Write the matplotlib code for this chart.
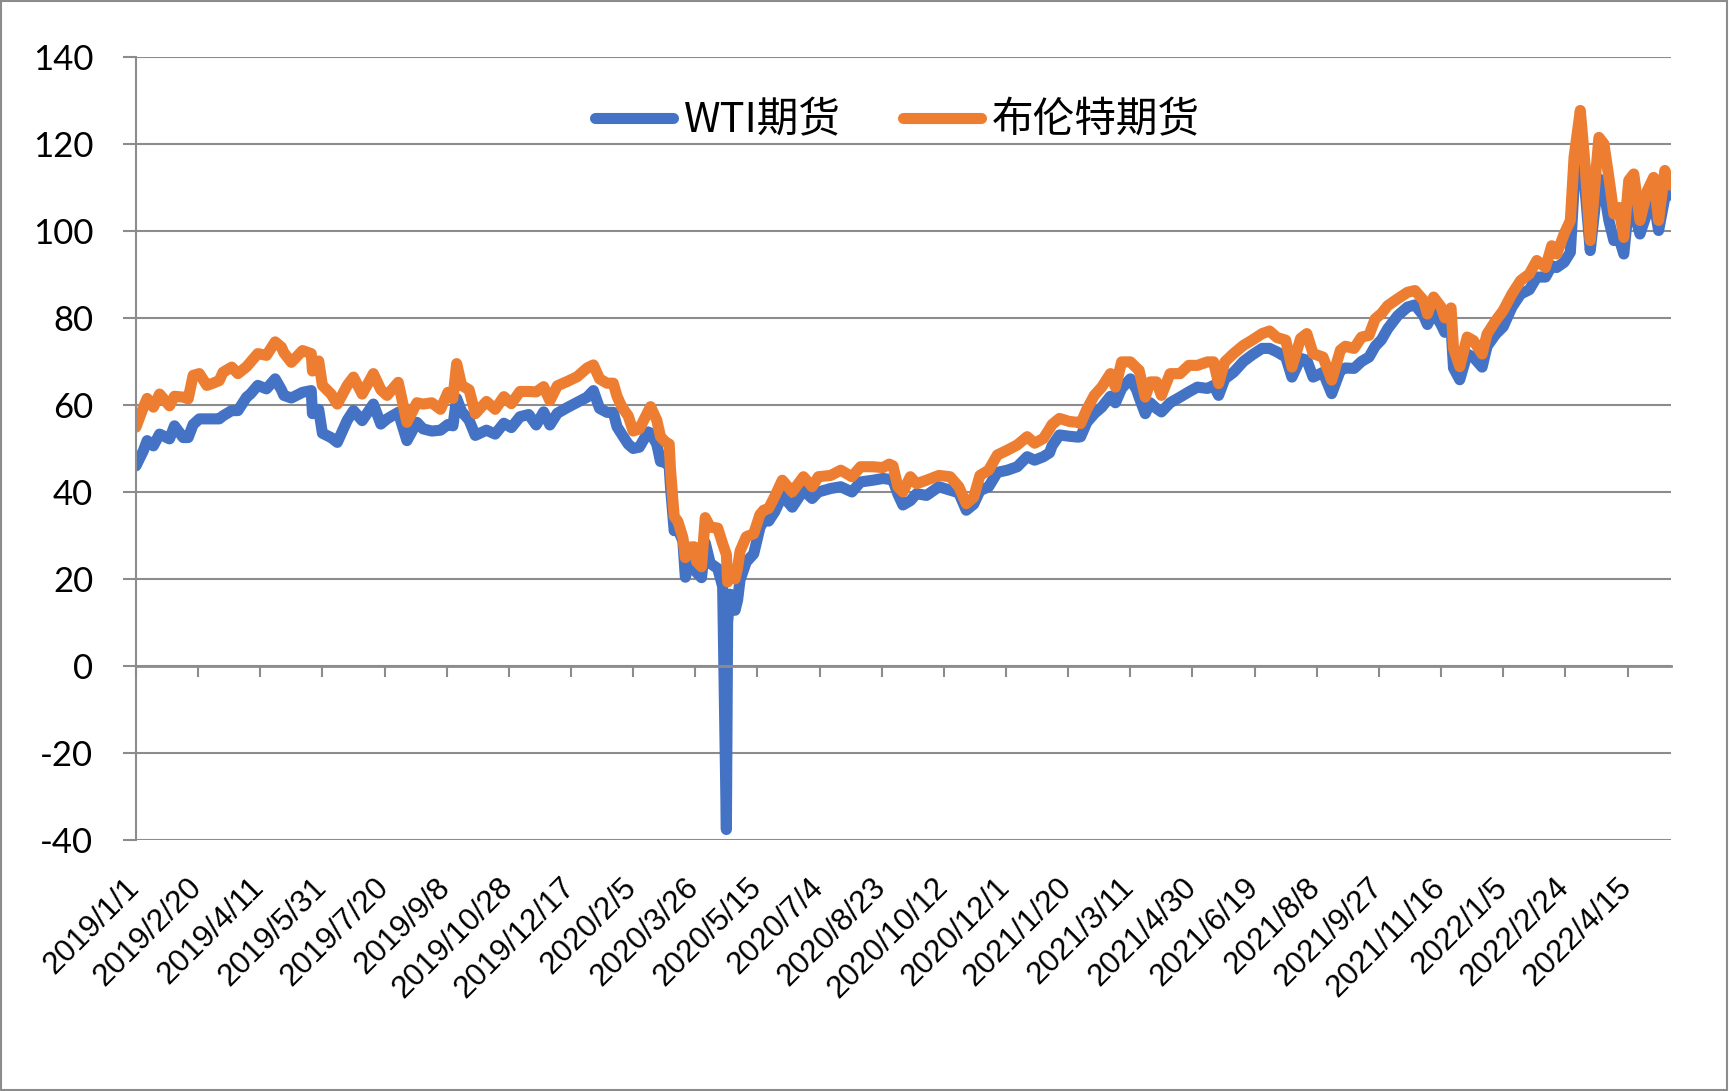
import matplotlib
matplotlib.use('Agg')
import matplotlib.pyplot as plt
import matplotlib.dates as mdates
import matplotlib.transforms as mtransforms
from matplotlib.patches import Rectangle
import pandas as pd

plt.rcParams['axes.unicode_minus'] = False

# 数据 (roughly weekly, plus the April 2020 crash days)
dates = [
    '2019-01-01', '2019-01-07', '2019-01-10', '2019-01-15', '2019-01-20', '2019-01-28',
    '2019-02-01', '2019-02-08', '2019-02-12', '2019-02-16', '2019-02-21', '2019-02-27',
    '2019-03-04', '2019-03-09', '2019-03-12', '2019-03-19', '2019-03-24', '2019-03-31',
    '2019-04-03', '2019-04-09', '2019-04-16', '2019-04-23', '2019-04-28', '2019-04-30',
    '2019-05-06', '2019-05-15', '2019-05-22', '2019-05-23', '2019-05-28', '2019-05-31',
    '2019-06-07', '2019-06-12', '2019-06-20', '2019-06-25', '2019-07-02', '2019-07-11',
    '2019-07-17', '2019-07-22', '2019-07-31', '2019-08-07', '2019-08-15', '2019-08-20',
    '2019-08-27', '2019-09-03', '2019-09-09', '2019-09-13', '2019-09-16', '2019-09-20',
    '2019-09-26', '2019-10-01', '2019-10-10', '2019-10-17', '2019-10-24', '2019-10-30',
    '2019-11-06', '2019-11-13', '2019-11-19', '2019-11-25', '2019-11-30', '2019-12-06',
    '2019-12-14', '2019-12-22', '2019-12-30',
    '2020-01-04', '2020-01-09', '2020-01-15', '2020-01-20', '2020-01-23', '2020-01-27',
    '2020-02-01', '2020-02-05', '2020-02-10', '2020-02-17', '2020-02-19', '2020-02-24',
    '2020-02-27', '2020-03-02', '2020-03-05', '2020-03-06', '2020-03-09', '2020-03-12',
    '2020-03-16', '2020-03-18', '2020-03-20', '2020-03-25', '2020-03-27', '2020-03-31',
    '2020-04-03', '2020-04-07', '2020-04-13', '2020-04-17', '2020-04-20', '2020-04-21',
    '2020-04-23', '2020-04-27', '2020-04-29', '2020-05-01', '2020-05-06', '2020-05-12',
    '2020-05-17', '2020-05-20', '2020-05-24', '2020-05-29', '2020-06-04', '2020-06-12',
    '2020-06-21', '2020-06-28', '2020-07-03', '2020-07-13', '2020-07-21', '2020-07-30',
    '2020-08-06', '2020-08-16', '2020-08-24', '2020-08-29', '2020-09-01', '2020-09-05',
    '2020-09-09', '2020-09-15', '2020-09-20', '2020-09-28', '2020-10-08', '2020-10-17',
    '2020-10-24', '2020-10-30', '2020-11-05', '2020-11-10', '2020-11-17', '2020-11-24',
    '2020-12-02', '2020-12-10', '2020-12-18', '2020-12-24', '2020-12-31',
    '2021-01-05', '2021-01-07', '2021-01-13', '2021-01-21', '2021-01-28', '2021-01-30',
    '2021-02-04', '2021-02-10', '2021-02-16', '2021-02-23', '2021-02-27', '2021-03-04',
    '2021-03-11', '2021-03-16', '2021-03-18', '2021-03-23', '2021-03-27', '2021-04-01',
    '2021-04-05', '2021-04-12', '2021-04-20', '2021-04-27', '2021-05-04', '2021-05-12',
    '2021-05-17', '2021-05-21', '2021-05-26', '2021-06-02', '2021-06-10', '2021-06-17',
    '2021-06-25', '2021-07-01', '2021-07-07', '2021-07-14', '2021-07-19', '2021-07-26',
    '2021-07-31', '2021-08-05', '2021-08-13', '2021-08-20', '2021-08-27', '2021-08-31',
    '2021-09-07', '2021-09-13', '2021-09-19', '2021-09-24', '2021-09-29', '2021-10-04',
    '2021-10-12', '2021-10-20', '2021-10-26', '2021-11-02', '2021-11-05', '2021-11-10',
    '2021-11-16', '2021-11-19', '2021-11-24', '2021-11-26', '2021-12-01', '2021-12-07',
    '2021-12-12', '2021-12-19', '2021-12-23', '2021-12-30',
    '2022-01-05', '2022-01-12', '2022-01-19', '2022-01-26', '2022-02-01', '2022-02-08',
    '2022-02-13', '2022-02-17', '2022-02-23', '2022-02-28', '2022-03-03', '2022-03-08',
    '2022-03-12', '2022-03-16', '2022-03-21', '2022-03-23', '2022-03-27', '2022-03-31',
    '2022-04-04', '2022-04-08', '2022-04-12', '2022-04-16', '2022-04-20', '2022-04-25',
    '2022-05-01', '2022-05-06', '2022-05-10', '2022-05-15', '2022-05-20',
]

wti = [
    46.0, 49.5, 51.8, 50.6, 53.3, 52.2,
    55.2, 52.5, 52.5, 55.5, 56.8, 56.8,
    56.8, 56.8, 57.5, 58.7, 58.7, 61.8,
    62.5, 64.5, 63.7, 66.0, 63.5, 62.2,
    61.6, 62.9, 63.3, 58.0, 59.0, 53.5,
    52.5, 51.4, 56.5, 58.7, 56.4, 60.2,
    55.6, 56.8, 58.3, 51.8, 56.0, 54.5,
    54.0, 54.2, 55.5, 55.2, 61.5, 58.5,
    56.5, 53.0, 54.2, 53.3, 55.8, 54.8,
    57.3, 57.8, 55.4, 58.4, 55.4, 58.1,
    59.4, 60.6, 61.8,
    63.3, 59.2, 58.3, 58.3, 55.0, 53.2,
    51.0, 50.0, 50.3, 53.8, 53.5, 51.0,
    47.0, 46.8, 45.9, 41.3, 31.1, 31.5,
    28.7, 20.4, 22.6, 24.0, 21.5, 20.3,
    28.3, 23.6, 22.4, 18.3, -37.6, 10.0,
    16.5, 12.8, 15.1, 19.8, 23.9, 25.8,
    31.8, 33.5, 33.3, 35.5, 39.2, 36.5,
    40.4, 38.5, 40.0, 40.8, 41.2, 40.0,
    42.3, 42.7, 43.1, 42.9, 42.7, 39.5,
    37.0, 38.0, 39.6, 39.2, 41.2, 40.4,
    39.8, 35.8, 37.2, 40.3, 41.2, 44.5,
    45.0, 45.8, 48.1, 47.3, 48.1,
    49.0, 50.6, 53.1, 52.8, 52.6, 52.7,
    56.0, 58.0, 59.5, 62.0, 60.5, 63.8,
    66.0, 63.5, 61.8, 58.0, 60.5, 59.2,
    58.4, 60.5, 61.8, 63.0, 64.1, 63.8,
    64.5, 62.2, 66.0, 67.5, 70.0, 71.5,
    73.0, 73.0, 72.2, 71.0, 66.4, 70.7,
    70.3, 66.4, 67.5, 62.6, 68.0, 68.5,
    68.4, 70.0, 71.0, 73.5, 75.0, 77.5,
    80.5, 82.5, 83.0, 80.5, 78.5, 81.3,
    78.5, 76.7, 78.0, 68.5, 65.8, 71.7,
    71.0, 68.7, 73.5, 76.3,
    78.0, 82.5, 85.5, 86.5, 89.4, 89.4,
    92.0, 91.6, 92.8, 95.1, 110.0, 120.0,
    109.0, 95.5, 108.5, 112.0, 109.3, 102.4,
    97.8, 98.5, 94.7, 106.2, 104.5, 99.3,
    104.5, 107.0, 100.1, 107.7, 108.5,
]

brent = [
    54.9, 59.5, 61.5, 59.5, 62.5, 59.8,
    62.0, 61.8, 61.4, 66.8, 67.2, 64.5,
    65.0, 65.6, 67.5, 68.7, 67.2, 68.8,
    69.8, 71.8, 71.4, 74.5, 73.3, 72.0,
    69.8, 72.5, 71.8, 67.8, 70.1, 64.5,
    62.5, 60.2, 64.5, 66.4, 62.5, 67.2,
    63.5, 62.2, 65.2, 56.0, 60.5, 60.2,
    60.5, 59.0, 62.9, 61.5, 69.5, 64.5,
    63.5, 58.0, 60.8, 59.0, 61.9, 60.3,
    63.1, 63.1, 63.0, 64.2, 61.0, 64.4,
    65.4, 66.5, 68.5,
    69.2, 66.0, 65.0, 65.0, 62.0, 59.5,
    57.5, 54.0, 54.5, 58.5, 59.6, 56.5,
    52.7, 51.5, 51.0, 45.3, 34.4, 33.2,
    29.5, 24.9, 27.3, 27.4, 24.0, 22.8,
    34.1, 31.9, 31.7, 28.1, 25.6, 19.3,
    21.3, 20.0, 22.5, 26.4, 29.7, 30.4,
    34.8, 35.8, 36.2, 39.0, 42.7, 40.0,
    43.5, 41.2, 43.5, 43.8, 45.0, 43.5,
    45.8, 45.8, 45.6, 46.4, 46.0, 41.2,
    40.0, 43.5, 41.9, 42.7, 43.8, 43.5,
    41.2, 37.3, 38.8, 43.8, 45.0, 48.5,
    49.6, 50.8, 52.7, 51.2, 52.3,
    54.5, 55.5, 56.9, 56.2, 56.0, 55.7,
    59.0, 62.2, 64.1, 67.2, 64.1, 69.9,
    69.9, 68.5, 68.0, 61.8, 65.3, 65.3,
    62.2, 67.2, 67.2, 69.1, 69.1, 69.9,
    69.9, 64.9, 69.9, 71.8, 73.7, 74.9,
    76.4, 77.0, 75.5, 74.9, 68.7, 75.3,
    76.4, 71.8, 71.0, 65.7, 72.6, 73.5,
    73.0, 75.6, 76.0, 79.8, 81.0, 82.8,
    84.4, 85.9, 86.3, 84.0, 80.9, 84.8,
    82.5, 80.0, 82.3, 73.0, 68.8, 75.6,
    74.8, 71.7, 76.3, 79.4,
    81.7, 85.5, 88.6, 90.1, 93.2, 91.6,
    96.6, 94.7, 99.3, 102.4, 117.0, 127.7,
    114.6, 97.8, 115.0, 121.5, 120.0, 112.3,
    103.9, 105.4, 98.5, 111.6, 113.1, 102.4,
    109.3, 112.3, 102.4, 113.9, 110.5,
]

series_names = ['WTI期货', '布伦特期货']
series_colors = ['#4472C4', '#ED7D31']
y_ticks = [-40, -20, 0, 20, 40, 60, 80, 100, 120, 140]
x_start, x_end = '2019-01-01', '2022-05-20'
x_tick_step = '50D'

x = pd.to_datetime(dates)
x_ticks = pd.date_range(x_start, x_end, freq=x_tick_step)
x_tick_labels = [f'{d.year}/{d.month}/{d.day}' for d in x_ticks]

grid_gray = '#8c8c8c'

fig = plt.figure(figsize=(17.32, 10.91), dpi=100)
ax = fig.add_axes([0.0785, 0.2301, 0.8863, 0.7177])

for vals, name, col in zip([wti, brent], series_names, series_colors):
    ax.plot(x, vals, color=col, lw=8, label=name,
            solid_capstyle='round', solid_joinstyle='round')

ax.set_xlim(pd.Timestamp(x_start), pd.Timestamp(x_end))
ax.set_ylim(-40, 140)
ax.set_yticks(y_ticks)
ax.set_xticks(x_ticks)
ax.set_xticklabels([])

ax.yaxis.grid(True, color=grid_gray, lw=1.5)
ax.set_axisbelow(True)
for side in ['top', 'right']:
    ax.spines[side].set_visible(False)
ax.spines['left'].set_color(grid_gray)
ax.spines['left'].set_linewidth(1.5)
ax.spines['bottom'].set_position(('data', 0))
ax.spines['bottom'].set_color(grid_gray)
ax.spines['bottom'].set_linewidth(2.0)

ax.tick_params(axis='y', direction='out', length=9.7, width=1.5, color=grid_gray,
               labelsize=25, pad=21)
ax.tick_params(axis='x', direction='out', length=8, width=1.5, color=grid_gray)
for lab in ax.get_yticklabels():
    lab.set_fontfamily('Lato')

# date labels sit under the plot, not under the zero line
lab_trans = mtransforms.offset_copy(
    mtransforms.blended_transform_factory(ax.transData, ax.transAxes),
    fig=fig, x=3.5, y=-35, units='points')
for d, txt in zip(x_ticks, x_tick_labels):
    ax.text(mdates.date2num(d), 0, txt, transform=lab_trans, rotation=45,
            rotation_mode='anchor', ha='right', va='baseline',
            fontsize=22.5, family='Liberation Sans')

leg = ax.legend(loc='center', bbox_to_anchor=(0.496, 0.918), ncol=2, frameon=False,
                handlelength=1.87, handletextpad=0.25, columnspacing=1.5,
                borderpad=0, prop={'family': ['Noto Sans CJK SC', 'DejaVu Sans'],
                                   'size': 30})

fig.patches.append(Rectangle((0.0005, 0.0008), 0.9965, 0.9984, transform=fig.transFigure,
                             fill=False, edgecolor=grid_gray, lw=1.5))

fig.savefig('out.png', dpi=100)
